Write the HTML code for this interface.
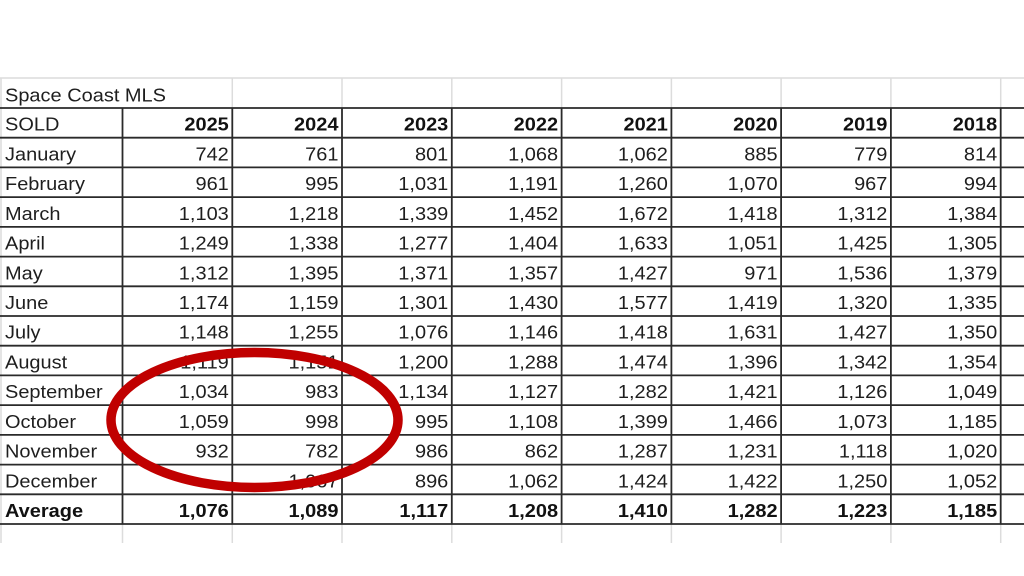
<!DOCTYPE html>
<html><head><meta charset="utf-8">
<style>
html,body{margin:0;padding:0;background:#fff;}
svg{display:block;}
text{font-family:"Liberation Sans",Arial,sans-serif;font-size:18.5px;fill:#1e1e1e;}
.b{font-weight:bold;fill:#111;}
</style></head>
<body>
<svg width="1024" height="576" viewBox="0 0 1024 576" xmlns="http://www.w3.org/2000/svg">
<rect width="1024" height="576" fill="#fff"/>
<!-- light grid lines -->
<g stroke="#dcdcdc" stroke-width="1.5">
<line x1="0" y1="78" x2="1024" y2="78"/>
<line x1="1" y1="78" x2="1" y2="543"/>
<line x1="232.3" y1="78" x2="232.3" y2="108"/>
<line x1="342.0" y1="78" x2="342.0" y2="108"/>
<line x1="451.8" y1="78" x2="451.8" y2="108"/>
<line x1="561.6" y1="78" x2="561.6" y2="108"/>
<line x1="671.4" y1="78" x2="671.4" y2="108"/>
<line x1="781.1" y1="78" x2="781.1" y2="108"/>
<line x1="890.9" y1="78" x2="890.9" y2="108"/>
<line x1="1000.7" y1="78" x2="1000.7" y2="108"/>
<line x1="122.5" y1="524" x2="122.5" y2="543"/>
<line x1="232.3" y1="524" x2="232.3" y2="543"/>
<line x1="342.0" y1="524" x2="342.0" y2="543"/>
<line x1="451.8" y1="524" x2="451.8" y2="543"/>
<line x1="561.6" y1="524" x2="561.6" y2="543"/>
<line x1="671.4" y1="524" x2="671.4" y2="543"/>
<line x1="781.1" y1="524" x2="781.1" y2="543"/>
<line x1="890.9" y1="524" x2="890.9" y2="543"/>
<line x1="1000.7" y1="524" x2="1000.7" y2="543"/>
</g>
<!-- dark grid -->
<g stroke="#2a2a2a" stroke-width="1.8">
<line x1="0" y1="108" x2="1024" y2="108"/>
<line x1="0" y1="137.7" x2="1024" y2="137.7"/>
<line x1="0" y1="167.4" x2="1024" y2="167.4"/>
<line x1="0" y1="197.1" x2="1024" y2="197.1"/>
<line x1="0" y1="226.9" x2="1024" y2="226.9"/>
<line x1="0" y1="256.6" x2="1024" y2="256.6"/>
<line x1="0" y1="286.3" x2="1024" y2="286.3"/>
<line x1="0" y1="316.0" x2="1024" y2="316.0"/>
<line x1="0" y1="345.7" x2="1024" y2="345.7"/>
<line x1="0" y1="375.4" x2="1024" y2="375.4"/>
<line x1="0" y1="405.1" x2="1024" y2="405.1"/>
<line x1="0" y1="434.9" x2="1024" y2="434.9"/>
<line x1="0" y1="464.6" x2="1024" y2="464.6"/>
<line x1="0" y1="494.3" x2="1024" y2="494.3"/>
<line x1="0" y1="524.0" x2="1024" y2="524.0"/>
<line x1="122.5" y1="108" x2="122.5" y2="524"/>
<line x1="232.3" y1="108" x2="232.3" y2="524"/>
<line x1="342.0" y1="108" x2="342.0" y2="524"/>
<line x1="451.8" y1="108" x2="451.8" y2="524"/>
<line x1="561.6" y1="108" x2="561.6" y2="524"/>
<line x1="671.4" y1="108" x2="671.4" y2="524"/>
<line x1="781.1" y1="108" x2="781.1" y2="524"/>
<line x1="890.9" y1="108" x2="890.9" y2="524"/>
<line x1="1000.7" y1="108" x2="1000.7" y2="524"/>
</g>
<!-- title -->
<text transform="translate(5,101.5) scale(1.08,1)">Space Coast MLS</text>
<!-- row labels -->
<g>
<text transform="translate(5,130.7) scale(1.08,1)">SOLD</text>
<text transform="translate(5,160.4) scale(1.08,1)">January</text>
<text transform="translate(5,190.1) scale(1.08,1)">February</text>
<text transform="translate(5,219.8) scale(1.08,1)">March</text>
<text transform="translate(5,249.6) scale(1.08,1)">April</text>
<text transform="translate(5,279.3) scale(1.08,1)">May</text>
<text transform="translate(5,309.0) scale(1.08,1)">June</text>
<text transform="translate(5,338.7) scale(1.08,1)">July</text>
<text transform="translate(5,368.4) scale(1.08,1)">August</text>
<text transform="translate(5,398.1) scale(1.08,1)">September</text>
<text transform="translate(5,427.8) scale(1.08,1)">October</text>
<text transform="translate(5,457.6) scale(1.08,1)">November</text>
<text transform="translate(5,487.3) scale(1.08,1)">December</text>
<text class="b" transform="translate(5,517.0) scale(1.08,1)">Average</text>
</g>
<!-- headers -->
<g text-anchor="end" class="hdr">
<text class="b" transform="translate(228.8,130.7) scale(1.08,1)">2025</text>
<text class="b" transform="translate(338.5,130.7) scale(1.08,1)">2024</text>
<text class="b" transform="translate(448.3,130.7) scale(1.08,1)">2023</text>
<text class="b" transform="translate(558.1,130.7) scale(1.08,1)">2022</text>
<text class="b" transform="translate(667.9,130.7) scale(1.08,1)">2021</text>
<text class="b" transform="translate(777.6,130.7) scale(1.08,1)">2020</text>
<text class="b" transform="translate(887.4,130.7) scale(1.08,1)">2019</text>
<text class="b" transform="translate(997.2,130.7) scale(1.08,1)">2018</text>
</g>
<g text-anchor="end">
<!-- January -->
<text transform="translate(228.8,160.4) scale(1.08,1)">742</text>
<text transform="translate(338.5,160.4) scale(1.08,1)">761</text>
<text transform="translate(448.3,160.4) scale(1.08,1)">801</text>
<text transform="translate(558.1,160.4) scale(1.08,1)">1,068</text>
<text transform="translate(667.9,160.4) scale(1.08,1)">1,062</text>
<text transform="translate(777.6,160.4) scale(1.08,1)">885</text>
<text transform="translate(887.4,160.4) scale(1.08,1)">779</text>
<text transform="translate(997.2,160.4) scale(1.08,1)">814</text>
<!-- February -->
<text transform="translate(228.8,190.1) scale(1.08,1)">961</text>
<text transform="translate(338.5,190.1) scale(1.08,1)">995</text>
<text transform="translate(448.3,190.1) scale(1.08,1)">1,031</text>
<text transform="translate(558.1,190.1) scale(1.08,1)">1,191</text>
<text transform="translate(667.9,190.1) scale(1.08,1)">1,260</text>
<text transform="translate(777.6,190.1) scale(1.08,1)">1,070</text>
<text transform="translate(887.4,190.1) scale(1.08,1)">967</text>
<text transform="translate(997.2,190.1) scale(1.08,1)">994</text>
<!-- March -->
<text transform="translate(228.8,219.8) scale(1.08,1)">1,103</text>
<text transform="translate(338.5,219.8) scale(1.08,1)">1,218</text>
<text transform="translate(448.3,219.8) scale(1.08,1)">1,339</text>
<text transform="translate(558.1,219.8) scale(1.08,1)">1,452</text>
<text transform="translate(667.9,219.8) scale(1.08,1)">1,672</text>
<text transform="translate(777.6,219.8) scale(1.08,1)">1,418</text>
<text transform="translate(887.4,219.8) scale(1.08,1)">1,312</text>
<text transform="translate(997.2,219.8) scale(1.08,1)">1,384</text>
<!-- April -->
<text transform="translate(228.8,249.6) scale(1.08,1)">1,249</text>
<text transform="translate(338.5,249.6) scale(1.08,1)">1,338</text>
<text transform="translate(448.3,249.6) scale(1.08,1)">1,277</text>
<text transform="translate(558.1,249.6) scale(1.08,1)">1,404</text>
<text transform="translate(667.9,249.6) scale(1.08,1)">1,633</text>
<text transform="translate(777.6,249.6) scale(1.08,1)">1,051</text>
<text transform="translate(887.4,249.6) scale(1.08,1)">1,425</text>
<text transform="translate(997.2,249.6) scale(1.08,1)">1,305</text>
<!-- May -->
<text transform="translate(228.8,279.3) scale(1.08,1)">1,312</text>
<text transform="translate(338.5,279.3) scale(1.08,1)">1,395</text>
<text transform="translate(448.3,279.3) scale(1.08,1)">1,371</text>
<text transform="translate(558.1,279.3) scale(1.08,1)">1,357</text>
<text transform="translate(667.9,279.3) scale(1.08,1)">1,427</text>
<text transform="translate(777.6,279.3) scale(1.08,1)">971</text>
<text transform="translate(887.4,279.3) scale(1.08,1)">1,536</text>
<text transform="translate(997.2,279.3) scale(1.08,1)">1,379</text>
<!-- June -->
<text transform="translate(228.8,309.0) scale(1.08,1)">1,174</text>
<text transform="translate(338.5,309.0) scale(1.08,1)">1,159</text>
<text transform="translate(448.3,309.0) scale(1.08,1)">1,301</text>
<text transform="translate(558.1,309.0) scale(1.08,1)">1,430</text>
<text transform="translate(667.9,309.0) scale(1.08,1)">1,577</text>
<text transform="translate(777.6,309.0) scale(1.08,1)">1,419</text>
<text transform="translate(887.4,309.0) scale(1.08,1)">1,320</text>
<text transform="translate(997.2,309.0) scale(1.08,1)">1,335</text>
<!-- July -->
<text transform="translate(228.8,338.7) scale(1.08,1)">1,148</text>
<text transform="translate(338.5,338.7) scale(1.08,1)">1,255</text>
<text transform="translate(448.3,338.7) scale(1.08,1)">1,076</text>
<text transform="translate(558.1,338.7) scale(1.08,1)">1,146</text>
<text transform="translate(667.9,338.7) scale(1.08,1)">1,418</text>
<text transform="translate(777.6,338.7) scale(1.08,1)">1,631</text>
<text transform="translate(887.4,338.7) scale(1.08,1)">1,427</text>
<text transform="translate(997.2,338.7) scale(1.08,1)">1,350</text>
<!-- August -->
<text transform="translate(228.8,368.4) scale(1.08,1)">1,119</text>
<text transform="translate(338.5,368.4) scale(1.08,1)">1,151</text>
<text transform="translate(448.3,368.4) scale(1.08,1)">1,200</text>
<text transform="translate(558.1,368.4) scale(1.08,1)">1,288</text>
<text transform="translate(667.9,368.4) scale(1.08,1)">1,474</text>
<text transform="translate(777.6,368.4) scale(1.08,1)">1,396</text>
<text transform="translate(887.4,368.4) scale(1.08,1)">1,342</text>
<text transform="translate(997.2,368.4) scale(1.08,1)">1,354</text>
<!-- September -->
<text transform="translate(228.8,398.1) scale(1.08,1)">1,034</text>
<text transform="translate(338.5,398.1) scale(1.08,1)">983</text>
<text transform="translate(448.3,398.1) scale(1.08,1)">1,134</text>
<text transform="translate(558.1,398.1) scale(1.08,1)">1,127</text>
<text transform="translate(667.9,398.1) scale(1.08,1)">1,282</text>
<text transform="translate(777.6,398.1) scale(1.08,1)">1,421</text>
<text transform="translate(887.4,398.1) scale(1.08,1)">1,126</text>
<text transform="translate(997.2,398.1) scale(1.08,1)">1,049</text>
<!-- October -->
<text transform="translate(228.8,427.8) scale(1.08,1)">1,059</text>
<text transform="translate(338.5,427.8) scale(1.08,1)">998</text>
<text transform="translate(448.3,427.8) scale(1.08,1)">995</text>
<text transform="translate(558.1,427.8) scale(1.08,1)">1,108</text>
<text transform="translate(667.9,427.8) scale(1.08,1)">1,399</text>
<text transform="translate(777.6,427.8) scale(1.08,1)">1,466</text>
<text transform="translate(887.4,427.8) scale(1.08,1)">1,073</text>
<text transform="translate(997.2,427.8) scale(1.08,1)">1,185</text>
<!-- November -->
<text transform="translate(228.8,457.6) scale(1.08,1)">932</text>
<text transform="translate(338.5,457.6) scale(1.08,1)">782</text>
<text transform="translate(448.3,457.6) scale(1.08,1)">986</text>
<text transform="translate(558.1,457.6) scale(1.08,1)">862</text>
<text transform="translate(667.9,457.6) scale(1.08,1)">1,287</text>
<text transform="translate(777.6,457.6) scale(1.08,1)">1,231</text>
<text transform="translate(887.4,457.6) scale(1.08,1)">1,118</text>
<text transform="translate(997.2,457.6) scale(1.08,1)">1,020</text>
<!-- December -->
<text transform="translate(338.5,487.3) scale(1.08,1)">1,067</text>
<text transform="translate(448.3,487.3) scale(1.08,1)">896</text>
<text transform="translate(558.1,487.3) scale(1.08,1)">1,062</text>
<text transform="translate(667.9,487.3) scale(1.08,1)">1,424</text>
<text transform="translate(777.6,487.3) scale(1.08,1)">1,422</text>
<text transform="translate(887.4,487.3) scale(1.08,1)">1,250</text>
<text transform="translate(997.2,487.3) scale(1.08,1)">1,052</text>
<!-- Average -->
<text class="b" transform="translate(228.8,517.0) scale(1.08,1)">1,076</text>
<text class="b" transform="translate(338.5,517.0) scale(1.08,1)">1,089</text>
<text class="b" transform="translate(448.3,517.0) scale(1.08,1)">1,117</text>
<text class="b" transform="translate(558.1,517.0) scale(1.08,1)">1,208</text>
<text class="b" transform="translate(667.9,517.0) scale(1.08,1)">1,410</text>
<text class="b" transform="translate(777.6,517.0) scale(1.08,1)">1,282</text>
<text class="b" transform="translate(887.4,517.0) scale(1.08,1)">1,223</text>
<text class="b" transform="translate(997.2,517.0) scale(1.08,1)">1,185</text>
</g>
<!-- red ellipse -->
<ellipse cx="254.5" cy="420" rx="143.5" ry="67.5" fill="none" stroke="#c00000" stroke-width="9.5"/>
</svg>
</body></html>
